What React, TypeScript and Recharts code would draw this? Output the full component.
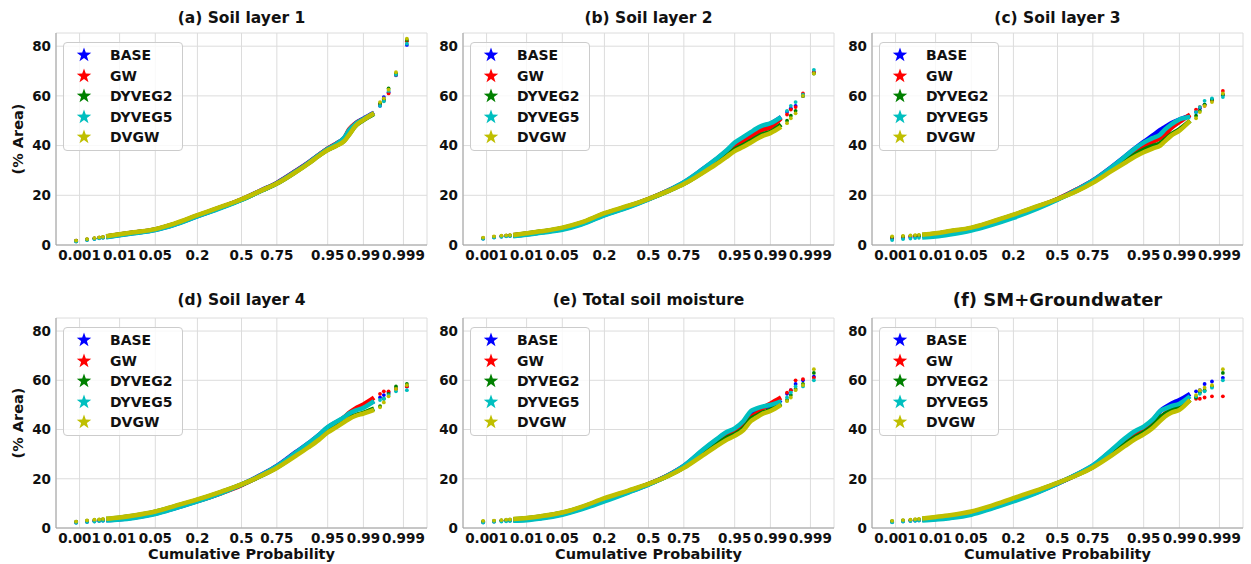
import { ComposedChart, Line, Scatter, XAxis, YAxis, CartesianGrid, Legend } from 'recharts'

const SERIES = ['BASE', 'GW', 'DYVEG2', 'DYVEG5', 'DVGW']
const COLORS = ['#0000ff', '#ff0000', '#008000', '#00bfbf', '#bfbf00']

const TICK_P = [0.001, 0.01, 0.05, 0.2, 0.5, 0.75, 0.95, 0.99, 0.999]
const TICK_LABELS = ['0.001', '0.01', '0.05', '0.2', '0.5', '0.75', '0.95', '0.99', '0.999']
const Y_TICKS = [0, 20, 40, 60, 80]

// plotting positions (cumulative probability) shared by every series
const LOW_P = [0.0008, 0.0016, 0.0025, 0.0033, 0.0041]
const BODY_P = [0.0049, 0.01, 0.02, 0.05, 0.1, 0.2, 0.35, 0.5, 0.65, 0.75, 0.85, 0.9, 0.93, 0.95, 0.965, 0.975, 0.98, 0.985, 0.99, 0.9943]
const HIGH_P = [0.9959, 0.9967, 0.9975, 0.9984, 0.9992]

// rows follow SERIES order: BASE, GW, DYVEG2, DYVEG5, DVGW
const soil1Low = [
  [1.5, 2.1, 2.5, 2.8, 3.0],
  [1.7, 2.3, 2.7, 3.0, 3.2],
  [1.7, 2.3, 2.7, 3.0, 3.2],
  [1.4, 2.0, 2.4, 2.7, 2.9],
  [1.8, 2.4, 2.8, 3.1, 3.3],
]
const soil1Body = [
  [3.2, 4.0, 4.8, 6.1, 8.2, 11.6, 15.1, 18.3, 22.1, 25.0, 29.8, 33.3, 36.3, 38.8, 40.8, 43.0, 46.0, 48.8, 50.8, 53.2],
  [3.4, 4.2, 5.0, 6.3, 8.4, 11.8, 15.2, 18.3, 22.0, 24.9, 29.7, 33.2, 36.2, 38.8, 40.8, 43.0, 46.5, 48.8, 50.6, 53.0],
  [3.4, 4.2, 5.0, 6.3, 8.4, 11.8, 15.2, 18.2, 21.9, 24.7, 29.4, 32.9, 35.9, 38.3, 40.0, 42.0, 44.5, 47.8, 50.2, 52.8],
  [3.1, 3.9, 4.7, 6.0, 8.1, 11.5, 14.9, 18.1, 21.9, 24.8, 29.6, 33.1, 36.2, 38.7, 40.7, 43.2, 46.2, 48.6, 50.6, 53.0],
  [3.5, 4.3, 5.1, 6.4, 8.6, 12.0, 15.4, 18.4, 22.0, 24.7, 29.3, 32.8, 35.8, 38.2, 39.9, 41.8, 44.3, 47.8, 50.3, 53.0],
]
const soil1High = [
  [56.0, 59.5, 61.5, 68.3, 80.5],
  [56.5, 58.0, 61.0, 68.5, 82.0],
  [57.0, 58.5, 63.0, 69.0, 82.5],
  [56.0, 57.8, 62.0, 68.5, 81.0],
  [57.5, 59.0, 62.5, 69.5, 83.0],
]

const soil2Low = [
  [2.6, 3.1, 3.4, 3.6, 3.7],
  [2.8, 3.3, 3.6, 3.8, 3.9],
  [2.8, 3.3, 3.6, 3.8, 3.9],
  [2.5, 3.0, 3.3, 3.5, 3.6],
  [3.0, 3.5, 3.8, 3.9, 4.0],
]
const soil2Body = [
  [3.7, 4.3, 5.1, 6.4, 8.5, 12.1, 15.3, 18.4, 22.0, 25.2, 30.5, 34.3, 37.5, 40.8, 43.0, 45.0, 46.3, 47.8, 48.8, 51.5],
  [3.9, 4.5, 5.3, 6.7, 8.8, 12.5, 15.5, 18.5, 22.0, 25.0, 30.0, 33.7, 36.8, 39.8, 41.8, 43.5, 45.0, 46.3, 47.3, 51.0],
  [3.9, 4.6, 5.4, 6.8, 8.9, 12.6, 15.6, 18.5, 21.8, 24.6, 29.3, 32.8, 35.8, 38.5, 40.2, 42.0, 43.2, 44.5, 45.5, 48.5],
  [3.5, 4.1, 4.9, 6.1, 8.2, 11.9, 15.1, 18.3, 22.0, 25.3, 30.6, 34.5, 37.8, 41.2, 43.5, 45.5, 46.8, 48.0, 49.0, 51.5],
  [4.0, 4.7, 5.5, 7.0, 9.1, 12.8, 15.8, 18.6, 21.8, 24.5, 29.0, 32.3, 35.2, 37.8, 39.5, 41.3, 42.5, 43.8, 45.0, 47.5],
]
const soil2High = [
  [53.5, 55.0, 56.0, 60.0, 69.5],
  [52.5, 54.5, 55.5, 61.0, 69.5],
  [50.0, 52.0, 54.0, 60.0, 69.0],
  [54.0, 56.0, 57.5, 60.5, 70.5],
  [49.0, 51.0, 53.0, 60.0, 69.0],
]

const soil3Low = [
  [2.5, 2.8, 3.1, 3.3, 3.5],
  [3.0, 3.3, 3.5, 3.7, 3.8],
  [3.2, 3.5, 3.7, 3.8, 3.9],
  [2.0, 2.4, 2.6, 2.8, 2.9],
  [3.5, 3.7, 3.9, 4.0, 4.1],
]
const soil3Body = [
  [3.6, 4.0, 4.8, 6.2, 8.4, 11.5, 15.0, 18.4, 22.5, 26.0, 31.5, 35.5, 38.8, 41.5, 44.0, 46.3, 47.5, 49.0, 50.5, 52.0],
  [3.9, 4.4, 5.3, 6.7, 8.9, 11.9, 15.3, 18.5, 22.5, 25.8, 31.0, 34.5, 37.5, 39.8, 41.5, 43.0, 44.5, 47.0, 49.5, 52.5],
  [4.0, 4.5, 5.4, 6.8, 9.0, 12.0, 15.4, 18.4, 22.0, 25.3, 30.3, 33.6, 36.3, 38.3, 39.8, 41.0, 42.5, 44.5, 46.5, 50.0],
  [3.0, 3.4, 4.2, 5.8, 7.9, 10.9, 14.6, 18.2, 22.4, 25.9, 31.4, 35.5, 38.8, 41.2, 43.0, 44.5, 46.5, 48.5, 50.5, 51.5],
  [4.1, 4.7, 5.6, 7.0, 9.2, 12.2, 15.6, 18.5, 21.8, 25.0, 29.8, 33.0, 35.5, 37.3, 38.8, 40.0, 41.8, 44.0, 46.0, 50.0],
]
const soil3High = [
  [53.5, 55.0, 56.5, 58.5, 60.5],
  [54.5, 55.5, 56.0, 58.0, 62.0],
  [52.0, 54.0, 56.5, 58.5, 60.5],
  [53.5, 55.5, 58.0, 59.0, 59.5],
  [51.0, 53.5, 56.0, 57.5, 61.0],
]

const soil4Low = [
  [2.2, 2.5, 2.7, 2.9, 3.0],
  [2.4, 2.8, 3.0, 3.1, 3.3],
  [2.6, 3.0, 3.3, 3.4, 3.5],
  [2.1, 2.4, 2.6, 2.8, 2.9],
  [2.6, 3.1, 3.4, 3.5, 3.7],
]
const soil4Body = [
  [3.2, 3.6, 4.3, 5.9, 8.0, 10.9, 14.3, 17.6, 21.7, 25.2, 30.8, 34.5, 37.8, 40.8, 43.0, 44.8, 46.3, 48.0, 49.5, 51.5],
  [3.4, 3.9, 4.7, 6.2, 8.3, 11.0, 14.2, 17.4, 21.5, 25.0, 30.5, 34.2, 37.5, 40.5, 42.8, 45.0, 46.8, 48.5, 50.2, 53.0],
  [3.7, 4.2, 5.0, 6.6, 8.7, 11.4, 14.6, 17.6, 21.3, 24.5, 29.7, 33.3, 36.5, 39.3, 41.5, 43.5, 44.8, 45.8, 46.8, 48.5],
  [3.0, 3.4, 4.1, 5.7, 7.9, 10.8, 14.2, 17.6, 21.6, 25.1, 30.6, 34.5, 37.8, 41.0, 43.2, 45.0, 46.5, 47.7, 48.8, 51.5],
  [3.8, 4.3, 5.1, 6.7, 8.9, 11.6, 14.8, 17.7, 21.3, 24.4, 29.3, 32.8, 35.8, 38.8, 41.0, 43.0, 44.3, 45.5, 46.5, 48.0],
]
const soil4High = [
  [53.0, 54.0, 55.0, 56.5, 57.5],
  [54.5, 55.5, 55.5, 56.5, 57.5],
  [49.5, 52.5, 54.5, 57.5, 58.5],
  [52.0, 52.5, 54.0, 55.5, 56.0],
  [49.0, 51.0, 53.5, 56.5, 58.0],
]

const totalLow = [
  [2.3, 2.6, 2.8, 2.9, 3.0],
  [2.5, 2.8, 3.0, 3.1, 3.2],
  [2.7, 2.9, 3.1, 3.3, 3.4],
  [2.2, 2.5, 2.6, 2.7, 2.8],
  [2.9, 3.0, 3.2, 3.4, 3.5],
]
const totalBody = [
  [3.2, 3.5, 4.1, 5.7, 7.9, 11.2, 14.6, 17.7, 21.5, 25.2, 31.5, 35.5, 38.5, 40.0, 43.0, 47.0, 48.0, 49.0, 49.5, 52.0],
  [3.4, 3.8, 4.5, 6.0, 8.2, 11.5, 14.8, 17.8, 21.5, 25.0, 30.8, 34.6, 37.5, 39.0, 41.5, 45.0, 46.5, 48.5, 50.5, 53.0],
  [3.6, 4.0, 4.7, 6.2, 8.4, 11.8, 15.0, 17.8, 21.3, 24.6, 30.0, 33.8, 36.5, 38.0, 40.5, 44.5, 45.5, 46.8, 48.0, 50.5],
  [2.9, 3.1, 3.8, 5.4, 7.6, 10.8, 14.4, 17.6, 21.5, 25.3, 31.8, 35.8, 38.8, 40.5, 43.5, 47.6, 48.5, 49.3, 50.0, 51.5],
  [3.7, 4.1, 4.8, 6.3, 8.6, 12.1, 15.2, 17.9, 21.2, 24.4, 29.5, 33.0, 35.6, 37.4, 39.8, 43.5, 44.8, 46.3, 47.5, 50.0],
]
const totalHigh = [
  [54.5, 56.0, 58.5, 60.0, 61.5],
  [55.0, 56.0, 60.0, 60.5, 61.0],
  [52.0, 54.0, 56.5, 58.5, 63.0],
  [53.0, 55.0, 57.5, 57.5, 60.0],
  [51.5, 53.0, 56.0, 58.0, 64.5],
]

const smgwLow = [
  [2.4, 2.7, 2.9, 3.0, 3.1],
  [2.6, 2.9, 3.1, 3.3, 3.4],
  [2.8, 3.1, 3.3, 3.4, 3.5],
  [2.3, 2.6, 2.8, 2.9, 3.0],
  [2.9, 3.2, 3.4, 3.6, 3.7],
]
const smgwBody = [
  [3.3, 3.7, 4.3, 5.8, 8.0, 11.2, 14.6, 18.0, 21.9, 25.3, 31.5, 35.8, 38.8, 40.5, 43.5, 47.5, 49.0, 50.5, 52.0, 54.5],
  [3.6, 4.0, 4.7, 6.2, 8.4, 11.6, 14.9, 18.1, 21.8, 25.1, 30.8, 34.8, 37.6, 39.5, 41.8, 44.5, 46.5, 48.0, 49.5, 52.0],
  [3.7, 4.2, 4.9, 6.4, 8.6, 11.8, 15.1, 18.2, 21.7, 24.8, 30.2, 34.0, 36.8, 38.8, 41.5, 45.0, 46.3, 47.8, 49.0, 52.0],
  [3.0, 3.4, 4.0, 5.4, 7.7, 10.8, 14.4, 18.0, 22.0, 25.4, 31.8, 36.3, 39.3, 41.2, 44.0, 47.5, 48.5, 49.5, 50.5, 53.5],
  [3.9, 4.5, 5.2, 6.7, 8.9, 12.1, 15.4, 18.3, 21.6, 24.6, 29.5, 33.2, 36.0, 38.0, 40.5, 43.5, 45.3, 46.8, 48.0, 52.0],
]
const smgwHigh = [
  [55.5, 56.0, 58.5, 59.5, 61.0],
  [52.5, 52.5, 53.0, 53.5, 53.5],
  [53.0, 55.0, 56.0, 57.5, 63.0],
  [53.5, 54.5, 55.5, 57.0, 60.0],
  [54.0, 56.0, 57.0, 58.0, 64.5],
]

const TITLES = ['(a) Soil layer 1', '(b) Soil layer 2', '(c) Soil layer 3', '(d) Soil layer 4', '(e) Total soil moisture', '(f) SM+Groundwater']

const PANELS = [
  { low: soil1Low, body: soil1Body, high: soil1High },
  { low: soil2Low, body: soil2Body, high: soil2High },
  { low: soil3Low, body: soil3Body, high: soil3High },
  { low: soil4Low, body: soil4Body, high: soil4High },
  { low: totalLow, body: totalBody, high: totalHigh },
  { low: smgwLow, body: smgwBody, high: smgwHigh },
]

const FONT = '"DejaVu Sans", sans-serif'
const GRID = '#dcdcdc'
const FRAME = '#a0a0a0'
const COL_X = [56, 463, 872]
const ROW_Y = [33, 318]
const ROW_H = [212, 210]
const PLOT_W = 371
const Y_AXIS_W = 50
const Z_DOMAIN: [number, number] = [-3.54, 3.54]
const Y_DOMAIN: [number, number] = [0, 85.3]

// inverse of the standard normal CDF (Acklam), used as the probability-paper scale
function probit(p: number) {
  const a = [-39.69683028665376, 220.9460984245205, -275.9285104469687, 138.357751867269, -30.66479806614716, 2.506628277459239]
  const b = [-54.47609879822406, 161.5858368580409, -155.6989798598866, 66.80131188771972, -13.28068155288572]
  const c = [-0.007784894002430293, -0.3223964580411365, -2.400758277161838, -2.549732539343734, 4.374664141464968, 2.938163982698783]
  const d = [0.007784695709041462, 0.3224671290700398, 2.445134137142996, 3.754408661907416]
  const tail = (q: number) =>
    (((((c[0] * q + c[1]) * q + c[2]) * q + c[3]) * q + c[4]) * q + c[5]) / ((((d[0] * q + d[1]) * q + d[2]) * q + d[3]) * q + 1)
  if (p < 0.02425) return tail(Math.sqrt(-2 * Math.log(p)))
  if (p > 1 - 0.02425) return -tail(Math.sqrt(-2 * Math.log(1 - p)))
  const q = p - 0.5
  const r = q * q
  return ((((((a[0] * r + a[1]) * r + a[2]) * r + a[3]) * r + a[4]) * r + a[5]) * q) /
    (((((b[0] * r + b[1]) * r + b[2]) * r + b[3]) * r + b[4]) * r + 1)
}

const X_TICKS = TICK_P.map(probit)

const toPoints = (probs: number[], vals: number[]) => vals.map((v, i) => ({ z: probit(probs[i]), v }))

const starPoints = Array.from({ length: 10 }, (_, i) => {
  const r = i % 2 === 0 ? 1 : 0.4
  const ang = -Math.PI / 2 + (i * Math.PI) / 5
  return `${(r * Math.cos(ang)).toFixed(3)},${(r * Math.sin(ang)).toFixed(3)}`
}).join(' ')

function StarLegend() {
  return (
    <div
      style={{
        border: '1px solid #cccccc',
        borderRadius: 4,
        background: 'rgba(255,255,255,0.8)',
        padding: '2px 0 2px 12px',
        width: 106,
        fontFamily: FONT,
        fontWeight: 'bold',
        fontSize: 14,
        color: '#111',
      }}
    >
      {SERIES.map((s, i) => (
        <div key={s} style={{ display: 'flex', alignItems: 'center', height: 20.5 }}>
          <svg width={16} height={16} viewBox="-1.05 -1.05 2.1 2.1">
            <polygon points={starPoints} fill={COLORS[i]} />
          </svg>
          <span style={{ marginLeft: 18 }}>{s}</span>
        </div>
      ))}
    </div>
  )
}

const tickStyle = { fontSize: 13.5, fontWeight: 'bold', fill: '#111', fontFamily: FONT }

function Panel({ index }: { index: number }) {
  const col = index % 3
  const row = Math.floor(index / 3)
  const { low, body, high } = PANELS[index]
  const xAxisH = row === 1 ? 41 : 22
  const plotH = ROW_H[row]
  const left = COL_X[col] - Y_AXIS_W
  const top = ROW_Y[row] - 5
  const width = Y_AXIS_W + PLOT_W + 5
  const height = 5 + plotH + xAxisH

  return (
    <>
      <div
        style={{
          position: 'absolute',
          left: COL_X[col],
          width: PLOT_W,
          top: ROW_Y[row] - (row === 0 ? 25 : 28),
          textAlign: 'center',
          fontFamily: FONT,
          fontWeight: 'bold',
          fontSize: index === 5 ? 18 : 15.5,
          lineHeight: '20px',
          color: '#111',
        }}
      >
        {TITLES[index]}
      </div>
      <div style={{ position: 'absolute', left, top }}>
        <ComposedChart width={width} height={height} margin={{ top: 5, right: 5, bottom: 0, left: 0 }}>
          <CartesianGrid stroke={GRID} strokeWidth={1} />
          <XAxis
            dataKey="z"
            type="number"
            domain={Z_DOMAIN}
            ticks={X_TICKS}
            allowDataOverflow
            interval={0}
            tickFormatter={(_v: number, i: number) => TICK_LABELS[i]}
            tick={tickStyle}
            tickSize={0}
            tickMargin={5}
            height={xAxisH}
            axisLine={{ stroke: FRAME }}
            label={
              row === 1
                ? { value: 'Cumulative Probability', position: 'insideBottom', offset: 10, style: { ...tickStyle, fontSize: 14.5 } }
                : undefined
            }
          />
          <XAxis xAxisId="top" orientation="top" dataKey="z" type="number" domain={Z_DOMAIN} height={0} tick={false} tickLine={false} axisLine={{ stroke: FRAME }} />
          <YAxis
            dataKey="v"
            type="number"
            domain={Y_DOMAIN}
            ticks={Y_TICKS}
            allowDataOverflow
            tick={tickStyle}
            tickSize={0}
            tickMargin={5}
            width={Y_AXIS_W}
            axisLine={{ stroke: FRAME }}
            label={
              col === 0
                ? { value: '(% Area)', angle: -90, position: 'insideLeft', offset: 12, style: { ...tickStyle, fontSize: 14.5, textAnchor: 'middle' } }
                : undefined
            }
          />
          <YAxis yAxisId="right" orientation="right" dataKey="v" type="number" domain={Y_DOMAIN} width={0} tick={false} tickLine={false} axisLine={{ stroke: FRAME }} />
          {SERIES.map((s, i) => (
            <Line
              key={`line-${s}`}
              data={toPoints(BODY_P, body[i])}
              dataKey="v"
              type="monotone"
              stroke={COLORS[i]}
              strokeWidth={4.5}
              dot={false}
              legendType="none"
              isAnimationActive={false}
            />
          ))}
          {SERIES.map((s, i) => (
            <Scatter
              key={`tail-${s}`}
              data={[...toPoints(LOW_P, low[i]), ...toPoints(HIGH_P, high[i])]}
              dataKey="v"
              fill={COLORS[i]}
              legendType="none"
              isAnimationActive={false}
              shape={(p: any) => <circle cx={p.cx} cy={p.cy} r={1.9} fill={COLORS[i]} />}
            />
          ))}
          <Legend
            layout="vertical"
            align="center"
            verticalAlign="middle"
            content={() => <StarLegend />}
            wrapperStyle={{ left: Y_AXIS_W + 7, top: 5 + 9, width: 'auto', height: 'auto' }}
          />
        </ComposedChart>
      </div>
    </>
  )
}

export default function App() {
  return (
    <div style={{ position: 'absolute', left: 0, top: 0, width: 1251, height: 564, background: '#ffffff', overflow: 'hidden' }}>
      {PANELS.map((_, i) => (
        <Panel key={i} index={i} />
      ))}
    </div>
  )
}
